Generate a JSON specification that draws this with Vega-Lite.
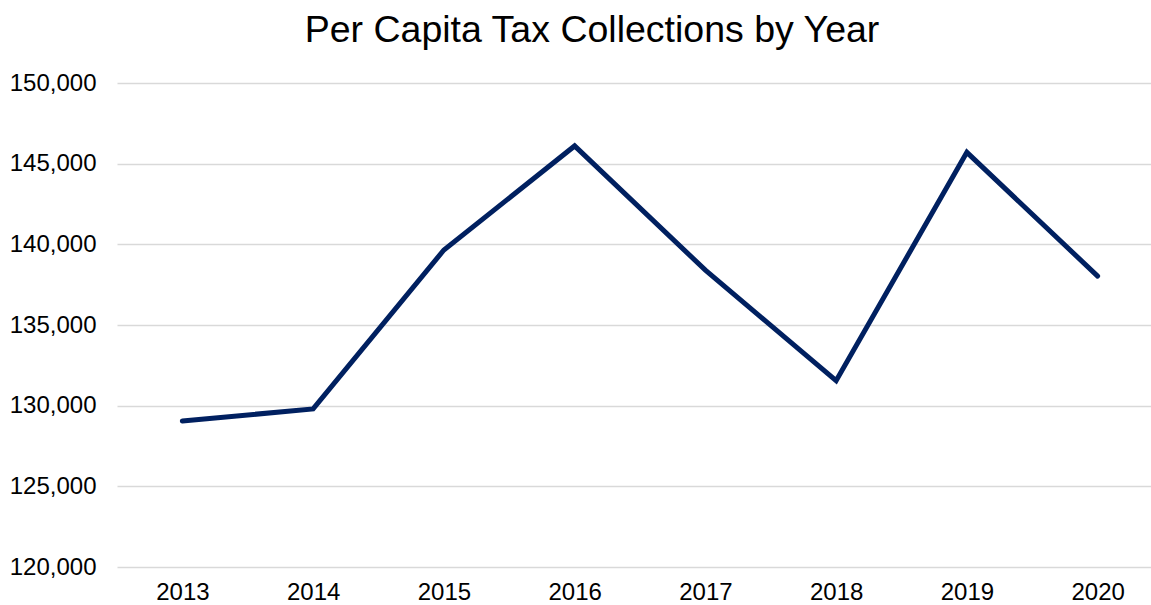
{
  "$schema": "https://vega.github.io/schema/vega-lite/v6.json",
  "autosize": "none",
  "padding": {"left": 117, "top": 83, "right": 0, "bottom": 38},
  "width": 1046,
  "height": 484,
  "background": "white",
  "config": {"view": {"stroke": null}, "font": "Liberation Sans"},
  "title": {
    "text": "Per Capita Tax Collections by Year",
    "font": "Liberation Sans",
    "fontSize": 37.5,
    "fontWeight": "normal",
    "color": "#000000",
    "anchor": "middle",
    "dx": -48,
    "dy": 37,
    "baseline": "alphabetic",
    "offset": 29
  },
  "data": {
    "values": [
      {"year": "2013", "value": 129050},
      {"year": "2014", "value": 129800},
      {"year": "2015", "value": 139650},
      {"year": "2016", "value": 146100},
      {"year": "2017", "value": 138400},
      {"year": "2018", "value": 131550},
      {"year": "2019", "value": 145700},
      {"year": "2020", "value": 138030}
    ]
  },
  "mark": {"type": "line", "color": "#002060", "strokeWidth": 5, "strokeJoin": "miter", "strokeCap": "round"},
  "encoding": {
    "x": {
      "field": "year",
      "type": "ordinal",
      "scale": {"type": "point", "padding": 0.5},
      "axis": {
        "title": null,
        "labelAngle": 0,
        "labelFont": "Liberation Sans",
        "labelFontSize": 24,
        "labelColor": "#000000",
        "labelPadding": 13,
        "ticks": false,
        "domain": false,
        "grid": false
      }
    },
    "y": {
      "field": "value",
      "type": "quantitative",
      "scale": {"domain": [120000, 150000], "nice": false, "zero": false},
      "axis": {
        "title": null,
        "values": [120000, 125000, 130000, 135000, 140000, 145000, 150000],
        "format": ",d",
        "labelFont": "Liberation Sans",
        "labelFontSize": 24,
        "labelColor": "#000000",
        "labelPadding": 21,
        "ticks": false,
        "domain": false,
        "grid": true,
        "gridColor": "#d9d9d9",
        "gridWidth": 1.5
      }
    }
  }
}
